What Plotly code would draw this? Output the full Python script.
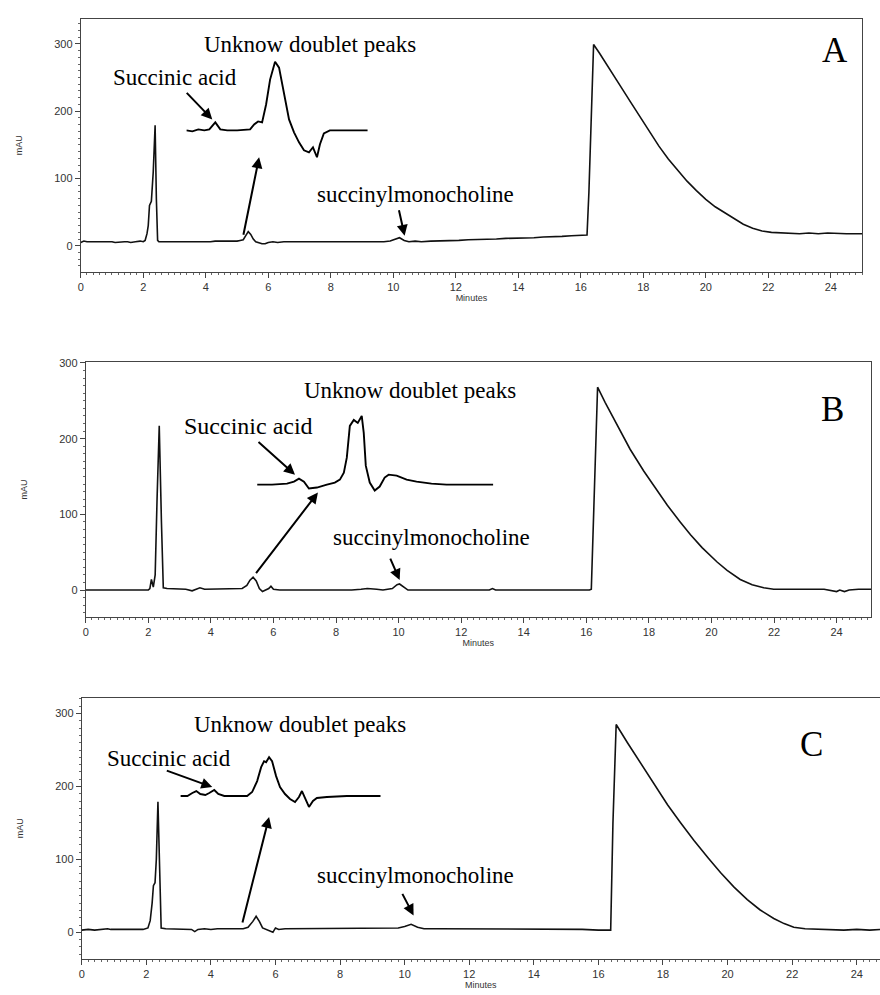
import plotly.graph_objects as go

W, H = 880, 995

# ---------------- data (minutes, mAU) ----------------
A_t = [0, 0.1, 0.2, 0.35, 0.5, 0.6, 0.75, 0.9, 1.0, 1.1, 1.25, 1.4, 1.5, 1.6, 1.75, 1.9, 2.0, 2.06,
       2.12, 2.16, 2.2, 2.26, 2.32, 2.38, 2.42, 2.46, 2.5, 2.6, 2.75, 2.9, 3.0, 3.15, 3.3, 3.45, 3.6,
       3.75, 3.9, 4.0, 4.15, 4.3, 4.45, 4.6, 4.75, 4.9, 5.0, 5.1, 5.2, 5.28, 5.36, 5.44, 5.52, 5.6,
       5.7, 5.8, 5.9, 6.0, 6.15, 6.3, 6.5, 6.7, 6.9, 7.1, 7.3, 7.5, 7.7, 7.9, 8.1, 8.3, 8.5, 8.7,
       8.9, 9.1, 9.3, 9.5, 9.7, 9.9, 10.05, 10.2, 10.35, 10.5, 10.7, 10.9, 11.2, 11.5, 11.8, 12.1,
       12.4, 12.7, 13.0, 13.3, 13.6, 13.9, 14.2, 14.5, 14.8, 15.1, 15.4, 15.7, 16.0, 16.2, 16.26,
       16.33, 16.41, 16.6, 16.8, 17.0, 17.3, 17.6, 17.9, 18.2, 18.5, 18.8, 19.1, 19.4, 19.7, 20.0,
       20.3, 20.6, 20.9, 21.2, 21.5, 21.8, 22.1, 22.4, 22.7, 23.0, 23.3, 23.6, 23.9, 24.2, 24.5,
       24.8, 25.0]
A_v = [5, 7, 6, 6, 7, 6, 6, 7, 6, 5, 6, 6, 6, 5, 6, 7, 6, 8,
       18, 30, 60, 66, 110, 179, 70, 8, 6, 6, 5, 6, 6, 5, 6, 6, 5,
       6, 6, 6, 6, 7, 7, 6, 6, 7, 7, 8, 9, 15, 21, 17, 10, 6,
       4, 3, 3, 5, 6, 5, 6, 6, 5, 6, 6, 5, 6, 5, 6, 5, 5, 6,
       5, 6, 5, 6, 6, 7, 10, 12, 8, 6, 7, 6, 7, 7, 8, 8,
       9, 9, 10, 10, 11, 11, 12, 12, 13, 13, 14, 15, 16, 16, 80,
       200, 299, 286, 272, 257, 235, 213, 191, 169, 148, 129, 112, 96, 82, 69,
       58, 49, 40, 32, 26, 22, 20, 19, 19, 18, 19, 18, 19, 18, 18,
       18, 18]

B_t = [0, 0.3, 0.6, 0.9, 1.2, 1.5, 1.8, 2.0, 2.05, 2.1, 2.16, 2.22, 2.28, 2.35, 2.42, 2.48, 2.6,
       2.8, 3.0, 3.2, 3.4, 3.55, 3.65, 3.8, 4.0, 4.2, 4.35, 4.6, 4.8, 5.0, 5.15, 5.25, 5.35, 5.45,
       5.55, 5.65, 5.75, 5.85, 5.92, 6.0, 6.2, 6.5, 7.0, 7.5, 8.0, 8.5, 8.8, 9.0, 9.3, 9.5, 9.8,
       9.95, 10.03, 10.15, 10.3, 10.6, 11.0, 12.0, 12.9, 13.0, 13.1, 14.0, 15.0, 16.1, 16.16,
       16.24, 16.36, 16.6, 17.0, 17.4, 17.84, 18.2, 18.59, 19.0, 19.33, 19.7, 20.18, 20.5, 20.92,
       21.3, 21.67, 21.99, 22.3, 23.0, 23.6, 24.0, 24.1, 24.25, 24.4, 24.7, 25.1]
B_v = [0, 0, 0, 0, 0, 0, 0, 0, 2, 14, 4, 20, 120, 217, 90, 3, 2,
       2, 2, 1, -1, 2, 3, 1, 1, 2, 1, 1, 1, 2, 6, 13, 17, 12,
       2, -2, 0, 2, 5, 1, 0, 0, 0, 0, 0, 0, 1, 2, 1, 0, 2,
       7, 8, 4, 0, 0, 0, 0, 0, 2, 0, 0, 0, 0, 1,
       120, 268, 248, 216, 186, 157, 135, 112, 90, 73, 56, 37, 26, 14,
       7, 3, 1, 1, 1, 1, -2, 0, -2, 0, 1, 1]

C_t = [0, 0.2, 0.4, 0.6, 0.8, 0.9, 1.1, 1.3, 1.5, 1.7, 1.9, 2.05, 2.12, 2.18, 2.22, 2.27, 2.31,
       2.36, 2.41, 2.46, 2.6, 2.8, 3.0, 3.2, 3.4, 3.5, 3.6, 3.8, 4.0, 4.2, 4.4, 4.6, 4.8, 5.0,
       5.15, 5.3, 5.4, 5.5, 5.6, 5.75, 5.85, 5.92, 6.0, 6.1, 6.3, 6.6, 7.0, 7.4, 7.8, 8.2, 8.6,
       9.0, 9.4, 9.8, 10.0, 10.2, 10.4, 10.6, 11.0, 11.5, 12.0, 12.5, 13.0, 13.5, 14.0, 14.5,
       15.0, 15.5, 16.0, 16.38, 16.45, 16.55, 16.9, 17.31, 17.7, 18.14, 18.55, 18.96, 19.4,
       19.78, 20.2, 20.61, 21.0, 21.43, 21.75, 22.05, 22.4, 22.8, 23.2, 23.6, 24.0, 24.4, 24.75]
C_v = [3, 4, 3, 4, 5, 4, 4, 5, 5, 5, 4, 6, 16, 40, 64, 68, 100,
       179, 80, 6, 5, 5, 5, 5, 4, 1, 4, 5, 4, 5, 5, 5, 5, 5,
       7, 15, 22, 15, 6, 3, 1, 0, 6, 4, 5, 5, 5, 6, 5, 5, 5,
       6, 5, 6, 8, 11, 7, 5, 5, 5, 5, 4, 5, 4, 4, 4,
       4, 4, 3, 3, 150, 285, 260, 232, 204, 175, 150, 126, 102,
       82, 62, 45, 31, 19, 12, 7, 5, 4, 4, 3, 4, 3, 4]

# magnified insets (region around 5.4 min, expanded scale)
IA_t = [4.40, 4.466, 4.532, 4.598, 4.653, 4.719, 4.774, 4.851, 4.960, 5.103, 5.147, 5.191, 5.235,
        5.279, 5.323, 5.378, 5.422, 5.477, 5.532, 5.587, 5.642, 5.697, 5.752, 5.796, 5.840, 5.873,
        5.916, 5.982, 6.114, 6.246, 6.40]
IA_v = [6.0, 5.8, 6.2, 6.0, 6.2, 7.6, 6.2, 6.0, 6.0, 6.2, 7.2, 7.8, 7.6,
        11.2, 16.2, 19.8, 18.6, 13.2, 8.2, 5.6, 3.6, 2.0, 1.6, 2.6, 0.6, 3.2,
        5.4, 6.0, 6.0, 6.0, 6.0]

IB_t = [4.20, 4.377, 4.554, 4.637, 4.696, 4.755, 4.814, 4.909, 5.027, 5.121, 5.181, 5.228, 5.263,
        5.299, 5.346, 5.393, 5.440, 5.464, 5.488, 5.535, 5.594, 5.653, 5.712, 5.759, 5.854, 5.972,
        6.090, 6.267, 6.445, 6.740, 7.00]
IB_v = [0, 0, 0.25, 0.75, 1.5, 0.75, -1, -0.75, 0, 0.5, 1.25, 3, 6.75,
        14.75, 16.25, 15.5, 17.25, 13, 4.75, 0.5, -1.5, -0.5, 1.75, 2.5, 2.25, 1.25,
        0.75, 0.25, 0, 0, 0]

IC_t = [4.40, 4.477, 4.531, 4.575, 4.619, 4.674, 4.717, 4.772, 4.816, 4.882, 5.024, 5.133, 5.188,
        5.243, 5.287, 5.319, 5.341, 5.374, 5.407, 5.451, 5.494, 5.549, 5.604, 5.659, 5.702, 5.735,
        5.768, 5.812, 5.856, 5.899, 6.009, 6.228, 6.60]
IC_v = [4, 4, 5.2, 6, 4.8, 4.4, 5.2, 6.4, 4.8, 4, 4, 4, 5.6,
        10, 15.6, 18, 17.6, 19.6, 18, 12, 7.6, 4.8, 2.8, 1.6, 3.6, 6,
        3.2, -0.4, 2, 3.2, 3.6, 4, 4]

x_ticks = [0, 2, 4, 6, 8, 10, 12, 14, 16, 18, 20, 22, 24]
y_ticks = [0, 100, 200, 300]
label_panels = ["A", "B", "C"]
txt_unknown = "Unknow doublet peaks"
txt_succ = "Succinic acid"
txt_smc = "succinylmonocholine"

# ---------------- layout helpers ----------------
def dx(p0, p1):
    return [p0 / W, p1 / W]

def dy(top, bottom):
    return [(H - bottom) / H, (H - top) / H]

def px(x):
    return x / W

def py(y):
    return 1 - y / H

fig = go.Figure()
line = dict(color="#111", width=1.6)
for i, (t, v) in enumerate([(A_t, A_v), (B_t, B_v), (C_t, C_v)]):
    s = "" if i == 0 else str(i + 1)
    fig.add_trace(go.Scatter(x=t, y=v, mode="lines", line=line, xaxis="x" + s, yaxis="y" + s,
                             showlegend=False, hoverinfo="skip"))
for i, (t, v) in enumerate([(IA_t, IA_v), (IB_t, IB_v), (IC_t, IC_v)]):
    s = str(i + 4)
    fig.add_trace(go.Scatter(x=t, y=v, mode="lines", line=dict(color="black", width=1.9),
                             xaxis="x" + s, yaxis="y" + s, showlegend=False, hoverinfo="skip"))

panels = [
    dict(xd=(78, 862), yd=(14, 268), xr=[0, 25.0], yr=[-38.4, 337], mir=True),
    dict(xd=(83, 871), yd=(359, 615), xr=[0, 25.1], yr=[-35.5, 301], mir=True),
    dict(xd=(79, 880), yd=(696, 959), xr=[0, 24.72], yr=[-36.8, 322], mir=False),
]
axfont = dict(family="Liberation Sans, Arial", size=11, color="#333")
for i, p in enumerate(panels):
    s = "" if i == 0 else str(i + 1)
    fig.layout["xaxis" + s] = dict(
        domain=dx(*p["xd"]), range=p["xr"], anchor="y" + s, showline=True, linecolor="#444",
        linewidth=1, mirror=True, ticks="outside", ticklen=5, tickcolor="#444",
        tickvals=x_ticks, tickfont=axfont, showgrid=False, zeroline=False,
        minor=dict(dtick=0.2, ticks="outside", ticklen=2, tickcolor="#666"),
        title=dict(text="Minutes", font=dict(family="Liberation Sans, Arial", size=9, color="#333"),
                   standoff=2))
    fig.layout["yaxis" + s] = dict(
        domain=dy(*p["yd"]), range=p["yr"], anchor="x" + s, showline=True, linecolor="#444",
        linewidth=1, mirror=p["mir"], ticks="outside", ticklen=5, tickcolor="#444",
        tickvals=y_ticks, tickfont=axfont, showgrid=False, zeroline=False,
        minor=dict(dtick=10, ticks="outside", ticklen=2, tickcolor="#666"),
        title=dict(text="mAU", font=dict(family="Liberation Sans, Arial", size=9, color="#333"),
                   standoff=30))

insets = [
    dict(xd=(184, 366), yd=(46, 166), xr=[4.40, 6.40], yr=[-2, 22]),
    dict(xd=(255, 492), yd=(400, 500), xr=[4.20, 7.00], yr=[-4.5, 20.5]),
    dict(xd=(178, 379), yd=(740, 820), xr=[4.40, 6.60], yr=[-6, 26]),
]
for i, p in enumerate(insets):
    s = str(i + 4)
    fig.layout["xaxis" + s] = dict(domain=dx(*p["xd"]), range=p["xr"], anchor="y" + s,
                                   visible=False)
    fig.layout["yaxis" + s] = dict(domain=dy(*p["yd"]), range=p["yr"], anchor="x" + s,
                                   visible=False)

serif = "Liberation Serif, Times New Roman, serif"
texts = [
    (txt_unknown, 308, 40, 23), (txt_succ, 173, 73, 23), (txt_smc, 414, 190, 23), (label_panels[0], 835, 46, 35),
    (txt_unknown, 408, 387, 23), (txt_succ, 246, 423, 24), (txt_smc, 430, 535, 23), (label_panels[1], 832, 407, 35),
    (txt_unknown, 298, 723, 23), (txt_succ, 167, 757, 23), (txt_smc, 414, 875, 23), (label_panels[2], 811, 743, 35),
]
ann = []
for t, x, y, fs in texts:
    ann.append(dict(text=t, x=px(x), y=py(y), xref="paper", yref="paper", showarrow=False,
                    xanchor="center", yanchor="middle",
                    font=dict(family=serif, size=fs, color="black")))
arrows = [
    ((183, 87), (210, 115)), ((241, 232), (257, 153)), ((397, 205), (403, 232)),
    ((255, 438), (293, 472)), ((253, 572), (316, 490)), ((388, 555), (398, 578)),
    ((163, 769), (210, 786)), ((240, 923), (267, 816)), ((400, 892), (412, 915)),
]
for (tx, ty), (hx, hy) in arrows:
    ann.append(dict(text="", x=px(hx), y=py(hy), xref="paper", yref="paper", showarrow=True,
                    ax=tx - hx, ay=ty - hy, arrowhead=2, arrowsize=1.1, arrowwidth=2,
                    arrowcolor="black"))

fig.update_layout(width=W, height=H, margin=dict(l=0, r=0, t=0, b=0), paper_bgcolor="white",
                  plot_bgcolor="white", annotations=ann)
fig.write_html("out.html")
